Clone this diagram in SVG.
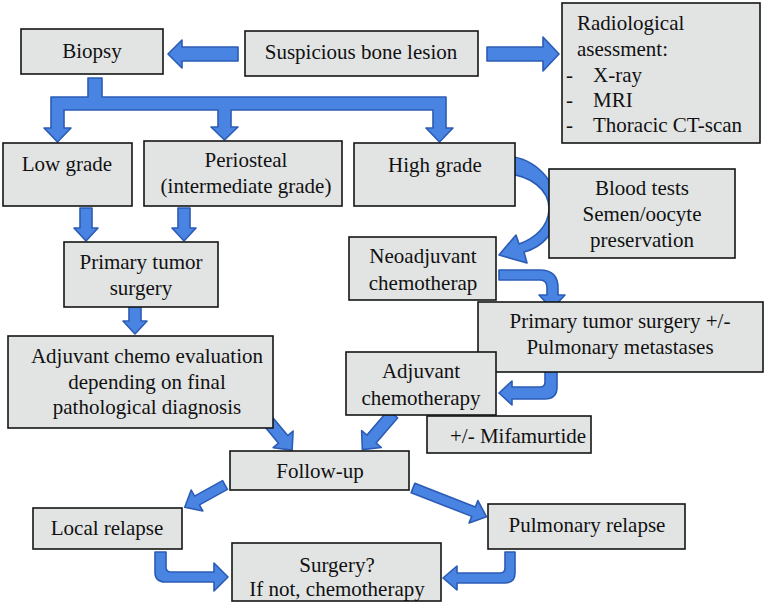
<svg xmlns="http://www.w3.org/2000/svg" width="767" height="603" viewBox="0 0 767 603">
<defs>
<style>
.box{fill:#e2e4e4;stroke:#151515;stroke-width:1.6}
.t{font-size:21px;fill:#111;text-anchor:middle}
.l{text-anchor:start}
.arr{fill:#4a84e2;stroke:#2b5cb5;stroke-width:1.6;stroke-linejoin:round}
</style>
</defs>
<rect width="767" height="603" fill="#fff"/>
<g id="connectors">
<path class="arr" d="M238,47 L182,47 L182,40 L168,54 L182,68 L182,61 L238,61 Z"/>
<path class="arr" d="M487,47 L543,47 L543,37 L559,54 L543,71 L543,61 L487,61 Z"/>
<path class="arr" d="M88,78 L102,78 L102,97 L446,97 L446,128 L453,128 L439.5,142 L426,128 L433,128 L433,110 L231,110 L231,127 L238,127 L224.5,140 L211,127 L218,127 L218,110 L64,110 L64,128 L71,128 L57.5,142 L44,128 L51,128 L51,97 L88,97 Z"/>
<path class="arr" d="M80,208 L92,208 L92,228 L98,228 L86,241 L74,228 L80,228 Z"/>
<path class="arr" d="M178,208 L190,208 L190,228 L196,228 L184,241 L172,228 L178,228 Z"/>
<path class="arr" d="M129,300 L141,300 L141,321 L147,321 L135,334 L123,321 L129,321 Z"/>
<path class="arr" d="M503,156 C535,156 559,182 557,212 C556,232 543,247 524,252 L527,263 L499,255 L516,235 L519,244 C536,238 548,226 549,210 C550,190 530,174 503,174 Z"/>
<path class="arr" d="M499,270 L540,270 Q558,270 558,288 L558,295 L565,295 L552,309 L539,295 L547,295 L547,288 Q547,280 540,280 L499,280 Z"/>
<path class="arr" d="M545,367 L557,367 L557,387 Q557,399 545,399 L512,399 L512,405 L499,393 L512,381 L512,387 L540,387 Q545,387 545,382 Z"/>
<polygon class="arr" transform="translate(262,414) rotate(50.2)" points="0,-6 33,-6 33,-13 47,0 33,13 33,6 0,6"/>
<polygon class="arr" transform="translate(393,414) rotate(130.7)" points="0,-6 33,-6 33,-13 47,0 33,13 33,6 0,6"/>
<polygon class="arr" transform="translate(225,485) rotate(151)" points="0,-5 32,-5 32,-12 46,0 32,12 32,5 0,5"/>
<polygon class="arr" transform="translate(413,488) rotate(21.4)" points="0,-5 65,-5 65,-12 79,0 65,12 65,5 0,5"/>
<path class="arr" d="M155,552 L166,552 L166,567 Q166,572 171,572 L214,572 L214,563 L228,577 L214,591 L214,582 L165,582 Q155,582 155,572 Z"/>
<path class="arr" d="M505,552 L515,552 L515,573 Q515,583 505,583 L457,583 L457,590 L443,578 L457,566 L457,573 L500,573 Q505,573 505,568 Z"/>
</g>
<g font-family="Liberation Serif, Times New Roman, serif">
<g id="biopsy"><rect class="box" x="21" y="29" width="142" height="45"/><text class="t" x="92" y="58">Biopsy</text></g>
<g id="suspicious"><rect class="box" x="245" y="31" width="233" height="45"/><text class="t" x="361" y="59">Suspicious bone lesion</text></g>
<g id="radiological"><rect class="box" x="562" y="3" width="198" height="140"/>
<text class="t l" x="577" y="30">Radiological</text>
<text class="t l" x="577" y="56">asessment:</text>
<text class="t l" x="566" y="82">-</text><text class="t l" x="593" y="82">X-ray</text>
<text class="t l" x="566" y="107">-</text><text class="t l" x="593" y="107">MRI</text>
<text class="t l" x="566" y="132">-</text><text class="t l" x="593" y="132">Thoracic CT-scan</text></g>
<g id="lowgrade"><rect class="box" x="3" y="143" width="129" height="63"/><text class="t" x="67" y="171">Low grade</text></g>
<g id="periosteal"><rect class="box" x="144" y="141" width="198" height="65"/><text class="t" x="246" y="167">Periosteal</text><text class="t" x="246" y="193">(intermediate grade)</text></g>
<g id="highgrade"><rect class="box" x="354" y="143" width="161" height="63"/><text class="t" x="435" y="172">High grade</text></g>
<g id="bloodtests"><rect class="box" x="549" y="169" width="186" height="89"/><text class="t" x="642" y="195">Blood tests</text><text class="t" x="642" y="221">Semen/oocyte</text><text class="t" x="642" y="247">preservation</text></g>
<g id="neoadjuvant"><rect class="box" x="349" y="237" width="147" height="63"/><text class="t" x="423" y="263">Neoadjuvant</text><text class="t" x="423" y="290">chemotherap</text></g>
<g id="primary2"><rect class="box" x="478" y="302" width="285" height="70"/><text class="t" x="620" y="328">Primary tumor surgery +/-</text><text class="t" x="620" y="354">Pulmonary metastases</text></g>
<g id="adjuvant"><rect class="box" x="346" y="352" width="150" height="63"/><text class="t" x="421" y="378">Adjuvant</text><text class="t" x="421" y="405">chemotherapy</text></g>
<g id="mifamurtide"><rect class="box" x="427" y="416" width="164" height="37"/><text class="t l" x="450" y="443">+/- Mifamurtide</text></g>
<g id="primary1"><rect class="box" x="64" y="242" width="154" height="65"/><text class="t" x="141" y="269">Primary tumor</text><text class="t" x="141" y="295">surgery</text></g>
<g id="adjeval"><rect class="box" x="8" y="336" width="265" height="92"/><text class="t" x="147" y="363">Adjuvant chemo evaluation</text><text class="t" x="147" y="389">depending on final</text><text class="t" x="147" y="414">pathological diagnosis</text></g>
<g id="followup"><rect class="box" x="230" y="451" width="179" height="39"/><text class="t" x="320" y="478">Follow-up</text></g>
<g id="localrelapse"><rect class="box" x="33" y="508" width="149" height="41"/><text class="t" x="107" y="535">Local relapse</text></g>
<g id="pulmonaryrelapse"><rect class="box" x="488" y="504" width="197" height="45"/><text class="t" x="587" y="532">Pulmonary relapse</text></g>
<g id="surgery"><rect class="box" x="232" y="543" width="209" height="58"/><text class="t" x="337" y="572">Surgery?</text><text class="t" x="337" y="596">If not, chemotherapy</text></g>
</g>
</svg>
